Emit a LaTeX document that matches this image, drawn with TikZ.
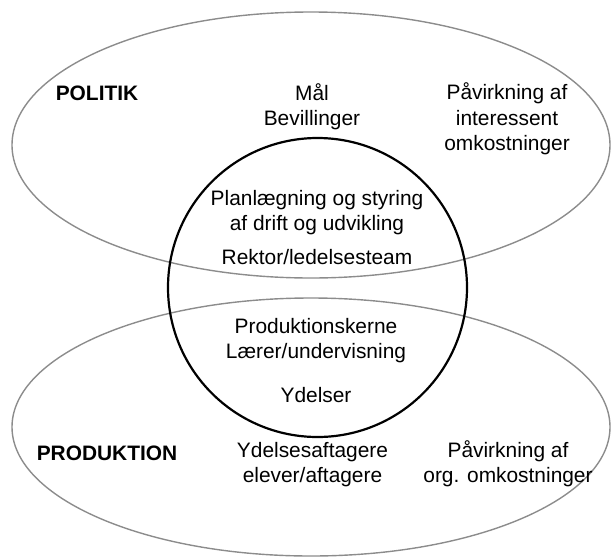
\documentclass[tikz,border=0pt]{standalone}
\usepackage{fontspec}
\setmainfont{Liberation Sans}
\tikzset{
  areaoval/.style={draw=black!45, line width=1.4pt},
  corering/.style={draw=black, line width=2.2pt},
  txt/.style={align=center, inner sep=0pt, font=\fontsize{20.9}{25.5}\selectfont},
  head/.style={txt, font=\fontsize{20.9}{25.5}\selectfont\bfseries}
}
\begin{document}
\begin{tikzpicture}[x=1pt, y=-1pt]
  \useasboundingbox (0,0) rectangle (611,558);
  % the two domains and the management circle between them
  \draw[areaoval] (311,145) ellipse [x radius=299, y radius=133];
  \draw[areaoval] (311,427) ellipse [x radius=299, y radius=129];
  \draw[corering] (317.5,287.5) circle [radius=149.5];

  % upper domain
  \node[head] (politik) at (97,93) {POLITIK};
  \node[txt] (maal) at (312,106.5) {Mål\\Bevillinger};
  \node[txt] (paavirkpol) at (507,119) {Påvirkning af\\interessent\\omkostninger};

  % circle contents
  \node[txt] (plan) at (317,212.5) {Planlægning og styring\\af drift og udvikling};
  \node[txt] (rektor) at (317,257) {Rektor/ledelsesteam};
  \node[txt] (kerne) at (316,340.5) {Produktionskerne\\Lærer/undervisning};
  \node[txt] (ydelser) at (316,395) {Ydelser};

  % lower domain
  \node[head] (produktion) at (107,453) {PRODUKTION};
  \node[txt] (aftagere) at (312.5,464.5) {Ydelsesaftagere\\elever/aftagere};
  \node[txt] (paavirkprod) at (508,463.5) {Påvirkning af\\org. omkostninger};
\end{tikzpicture}
\end{document}
